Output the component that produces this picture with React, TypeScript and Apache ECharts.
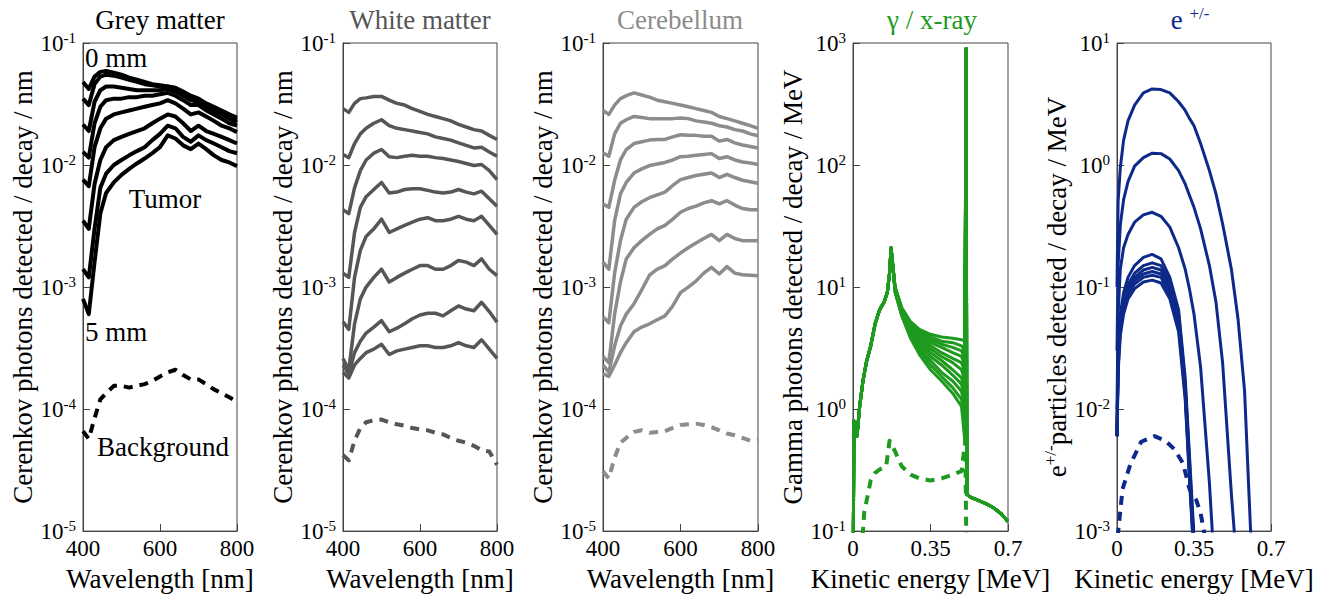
import React, { useEffect, useRef } from 'react';
import * as echarts from 'echarts';

const FONT = 'Liberation Serif, serif';

// ---------- Wavelength panels ----------
const wavelengths = [400, 415, 430, 445, 460, 480, 500, 520, 540, 560, 580, 600, 620, 640, 660, 680, 700, 720, 740, 760, 780, 800];

const greyCurves = [
  [0.048, 0.042, 0.053, 0.058, 0.059, 0.057, 0.055, 0.052, 0.050, 0.048, 0.046, 0.045, 0.044, 0.043, 0.040, 0.037, 0.035, 0.032, 0.030, 0.028, 0.026, 0.0245],
  [0.035, 0.031, 0.046, 0.053, 0.055, 0.054, 0.052, 0.050, 0.048, 0.046, 0.045, 0.044, 0.044, 0.042, 0.039, 0.036, 0.034, 0.031, 0.029, 0.027, 0.025, 0.0235],
  [0.0215, 0.019, 0.033, 0.041, 0.044, 0.044, 0.043, 0.042, 0.041, 0.041, 0.041, 0.041, 0.042, 0.040, 0.037, 0.034, 0.033, 0.030, 0.028, 0.026, 0.024, 0.0225],
  [0.0128, 0.0115, 0.022, 0.030, 0.034, 0.035, 0.035, 0.036, 0.036, 0.037, 0.037, 0.038, 0.039, 0.037, 0.034, 0.031, 0.031, 0.028, 0.026, 0.024, 0.022, 0.021],
  [0.0076, 0.0067, 0.014, 0.020, 0.024, 0.026, 0.027, 0.028, 0.029, 0.030, 0.031, 0.032, 0.034, 0.032, 0.029, 0.026, 0.027, 0.025, 0.023, 0.021, 0.020, 0.0186],
  [0.0035, 0.003, 0.007, 0.011, 0.014, 0.016, 0.017, 0.018, 0.019, 0.020, 0.022, 0.024, 0.026, 0.025, 0.022, 0.019, 0.021, 0.019, 0.018, 0.017, 0.016, 0.015],
  [0.0014, 0.0012, 0.003, 0.0065, 0.0085, 0.010, 0.011, 0.012, 0.013, 0.014, 0.016, 0.018, 0.021, 0.020, 0.017, 0.0155, 0.0175, 0.016, 0.015, 0.014, 0.013, 0.0125],
  [0.0008, 0.0006, 0.0016, 0.004, 0.0059, 0.0072, 0.0083, 0.0093, 0.0103, 0.0113, 0.0125, 0.014, 0.0175, 0.0165, 0.0145, 0.0135, 0.015, 0.0135, 0.012, 0.011, 0.0105, 0.0098],
];
const greyBackground = [6.6e-5, 5.7e-5, 8.4e-5, 1.2e-4, 1.35e-4, 1.55e-4, 1.55e-4, 1.5e-4, 1.55e-4, 1.6e-4, 1.7e-4, 1.85e-4, 2.0e-4, 2.1e-4, 1.9e-4, 1.75e-4, 1.75e-4, 1.6e-4, 1.45e-4, 1.35e-4, 1.25e-4, 1.15e-4];

const whiteCurves = [
  [0.029, 0.027, 0.032, 0.035, 0.0355, 0.0365, 0.0365, 0.034, 0.032, 0.031, 0.029, 0.0275, 0.026, 0.025, 0.024, 0.023, 0.0215, 0.0205, 0.0195, 0.019, 0.0175, 0.0162],
  [0.0122, 0.0115, 0.015, 0.018, 0.020, 0.022, 0.0235, 0.021, 0.020, 0.0195, 0.019, 0.0185, 0.018, 0.017, 0.0165, 0.016, 0.0152, 0.0145, 0.0138, 0.014, 0.0128, 0.0118],
  [0.0043, 0.004, 0.0065, 0.009, 0.011, 0.0125, 0.0134, 0.0117, 0.0115, 0.0118, 0.012, 0.0118, 0.0118, 0.0115, 0.0113, 0.011, 0.0107, 0.0103, 0.0099, 0.0101, 0.009, 0.0076],
  [0.0013, 0.0012, 0.0028, 0.0045, 0.0055, 0.0063, 0.0072, 0.0059, 0.006, 0.0063, 0.0064, 0.0064, 0.0062, 0.006, 0.0059, 0.006, 0.0063, 0.006, 0.0058, 0.0061, 0.0053, 0.0046],
  [5.2e-4, 4.5e-4, 0.0012, 0.002, 0.0026, 0.003, 0.0036, 0.0028, 0.003, 0.0032, 0.0034, 0.0036, 0.0037, 0.0035, 0.0035, 0.0036, 0.0038, 0.0036, 0.0035, 0.0038, 0.0032, 0.0027],
  [2.6e-4, 2.1e-4, 5e-4, 8e-4, 0.001, 0.0012, 0.0014, 0.0011, 0.0012, 0.0013, 0.0014, 0.0015, 0.0015, 0.0014, 0.0014, 0.0015, 0.00165, 0.0016, 0.0015, 0.0017, 0.0014, 0.00124],
  [2.3e-4, 1.95e-4, 2.9e-4, 3.6e-4, 4.2e-4, 4.7e-4, 5.3e-4, 4.3e-4, 4.6e-4, 5.0e-4, 5.5e-4, 5.9e-4, 6.1e-4, 6.1e-4, 5.8e-4, 6.4e-4, 7.0e-4, 6.6e-4, 6.4e-4, 7.5e-4, 6.3e-4, 5.15e-4],
  [2.0e-4, 1.8e-4, 2.3e-4, 2.6e-4, 2.9e-4, 3.1e-4, 3.4e-4, 2.8e-4, 3.0e-4, 3.1e-4, 3.2e-4, 3.3e-4, 3.3e-4, 3.2e-4, 3.2e-4, 3.3e-4, 3.5e-4, 3.3e-4, 3.2e-4, 3.7e-4, 3.1e-4, 2.6e-4],
];
const whiteBackground = [4.2e-5, 3.8e-5, 5.5e-5, 7.0e-5, 7.8e-5, 8.1e-5, 8.2e-5, 7.8e-5, 7.5e-5, 7.3e-5, 7.0e-5, 6.8e-5, 6.7e-5, 6.4e-5, 6.2e-5, 5.8e-5, 5.5e-5, 5.3e-5, 5.0e-5, 4.6e-5, 4.5e-5, 3.5e-5];

const cerebellumCurves = [
  [0.028, 0.026, 0.031, 0.035, 0.037, 0.039, 0.0375, 0.036, 0.034, 0.033, 0.032, 0.031, 0.030, 0.029, 0.028, 0.027, 0.025, 0.024, 0.023, 0.022, 0.021, 0.020],
  [0.0126, 0.0118, 0.018, 0.022, 0.0235, 0.025, 0.0245, 0.024, 0.024, 0.024, 0.024, 0.0243, 0.024, 0.023, 0.0225, 0.022, 0.021, 0.0205, 0.0195, 0.019, 0.018, 0.0174],
  [0.0048, 0.0045, 0.0075, 0.011, 0.0134, 0.015, 0.0155, 0.016, 0.0162, 0.0162, 0.017, 0.0177, 0.0175, 0.0175, 0.0172, 0.0172, 0.0157, 0.0162, 0.0152, 0.0146, 0.0142, 0.0138],
  [0.0016, 0.0014, 0.0035, 0.0058, 0.0072, 0.0086, 0.0093, 0.0099, 0.0102, 0.0105, 0.011, 0.0117, 0.0118, 0.012, 0.0122, 0.0124, 0.0113, 0.0117, 0.011, 0.0106, 0.0104, 0.0101],
  [5.7e-4, 5.1e-4, 0.0013, 0.0024, 0.0036, 0.0045, 0.005, 0.0054, 0.0057, 0.006, 0.0068, 0.0076, 0.0079, 0.0082, 0.0084, 0.0086, 0.0079, 0.0084, 0.0079, 0.0075, 0.0073, 0.0071],
  [2.7e-4, 2.4e-4, 6e-4, 0.0011, 0.0017, 0.0021, 0.0024, 0.0027, 0.003, 0.0032, 0.0036, 0.0041, 0.0044, 0.0046, 0.0049, 0.0051, 0.0048, 0.0051, 0.0047, 0.0044, 0.0043, 0.0043],
  [2.3e-4, 2.0e-4, 3.3e-4, 4.8e-4, 6.0e-4, 7.3e-4, 9.5e-4, 0.00125, 0.0014, 0.0015, 0.0017, 0.0019, 0.0021, 0.0023, 0.0025, 0.0027, 0.0024, 0.0027, 0.0025, 0.0024, 0.0024, 0.0024],
  [1.95e-4, 1.85e-4, 2.3e-4, 2.9e-4, 3.5e-4, 4.3e-4, 4.7e-4, 5.0e-4, 5.4e-4, 5.8e-4, 7.0e-4, 9.0e-4, 0.001, 0.00112, 0.0013, 0.00145, 0.00128, 0.00147, 0.0013, 0.00126, 0.00125, 0.00124],
];
const cerebellumBackground = [3.1e-5, 2.7e-5, 4.0e-5, 5.3e-5, 5.8e-5, 6.5e-5, 6.7e-5, 6.4e-5, 6.5e-5, 6.6e-5, 7.0e-5, 7.4e-5, 7.5e-5, 7.6e-5, 7.4e-5, 7.1e-5, 6.7e-5, 6.3e-5, 6.1e-5, 5.8e-5, 5.5e-5, 5.6e-5];

// ---------- Gamma / x-ray panel ----------
const gammaHeadE = [0, 0.004, 0.01, 0.018, 0.03, 0.045, 0.06, 0.08, 0.1, 0.12, 0.14, 0.155, 0.165, 0.172];
const gammaHeadV = [0.02, 0.8, 0.62, 0.6, 1.05, 1.7, 2.4, 3.3, 5.0, 6.5, 7.5, 9.0, 13, 21];
const gammaTailE = [0.19, 0.22, 0.26, 0.3, 0.35, 0.4, 0.45, 0.49, 0.505];
const gammaTails = [
  [10, 6.8, 5.2, 4.5, 4.1, 3.9, 3.8, 3.7, 3.6],
  [10, 6.7, 5.1, 4.3, 3.9, 3.6, 3.5, 3.3, 3.0],
  [9.9, 6.6, 5.0, 4.2, 3.7, 3.4, 3.2, 3.0, 2.6],
  [9.8, 6.5, 4.9, 4.0, 3.5, 3.2, 2.9, 2.7, 2.3],
  [9.7, 6.4, 4.7, 3.8, 3.3, 2.9, 2.6, 2.4, 2.0],
  [9.6, 6.3, 4.6, 3.7, 3.1, 2.7, 2.4, 2.1, 1.7],
  [9.5, 6.2, 4.4, 3.5, 2.9, 2.5, 2.1, 1.8, 1.4],
  [9.4, 6.1, 4.3, 3.3, 2.7, 2.3, 1.9, 1.6, 1.2],
  [9.3, 6.0, 4.1, 3.1, 2.5, 2.0, 1.7, 1.4, 1.0],
  [9.2, 5.9, 4.0, 3.0, 2.3, 1.85, 1.5, 1.2, 0.8],
  [9.0, 5.8, 3.8, 2.8, 2.1, 1.7, 1.35, 1.05, 0.55],
];
const gammaSpikeE = [0.511, 0.514, 0.53, 0.56, 0.6, 0.64, 0.67, 0.7];
const gammaSpikeV = [900, 0.2, 0.19, 0.18, 0.168, 0.153, 0.138, 0.12];
const gammaBgE = [0.035, 0.05, 0.08, 0.1, 0.12, 0.15, 0.165, 0.19, 0.22, 0.26, 0.3, 0.35, 0.4, 0.45, 0.49, 0.507, 0.513];
const gammaBgV = [0.05, 0.14, 0.26, 0.3, 0.32, 0.34, 0.55, 0.45, 0.34, 0.29, 0.27, 0.26, 0.27, 0.29, 0.31, 0.55, 0.05];

// ---------- e+/- panel ----------
const electronE = [0, 0.005, 0.015, 0.03, 0.05, 0.08, 0.12, 0.16, 0.2, 0.24, 0.28, 0.31, 0.33, 0.35, 0.38, 0.42, 0.45, 0.48, 0.52, 0.55, 0.58, 0.6, 0.62];
const electronCurves = [
  [0.1, 0.5, 0.95, 1.6, 2.3, 3.1, 3.9, 4.2, 4.15, 3.9, 3.3, 2.8, 2.4, 2.1, 1.5, 0.9, 0.58, 0.33, 0.14, 0.055, 0.014, 0.002, 0.0003],
  [0.03, 0.15, 0.32, 0.52, 0.73, 0.98, 1.15, 1.25, 1.24, 1.12, 0.9, 0.7, 0.56, 0.45, 0.3, 0.15, 0.075, 0.024, 0.002, 0.0004],
  [0.01, 0.06, 0.14, 0.21, 0.27, 0.34, 0.39, 0.41, 0.38, 0.31, 0.21, 0.14, 0.095, 0.06, 0.022, 0.0025, 0.0003],
  [0.006, 0.03, 0.06, 0.09, 0.12, 0.15, 0.175, 0.185, 0.17, 0.12, 0.065, 0.018, 0.004, 0.0009],
  [0.006, 0.028, 0.055, 0.08, 0.105, 0.13, 0.15, 0.158, 0.15, 0.11, 0.06, 0.016, 0.0035, 0.0008],
  [0.006, 0.026, 0.05, 0.075, 0.1, 0.12, 0.138, 0.145, 0.138, 0.1, 0.055, 0.015, 0.003, 0.0007],
  [0.006, 0.024, 0.047, 0.07, 0.094, 0.113, 0.128, 0.134, 0.128, 0.094, 0.05, 0.014, 0.003, 0.0007],
  [0.006, 0.022, 0.044, 0.066, 0.088, 0.106, 0.12, 0.125, 0.12, 0.088, 0.047, 0.013, 0.0028, 0.0006],
  [0.006, 0.02, 0.04, 0.06, 0.08, 0.097, 0.11, 0.114, 0.108, 0.08, 0.043, 0.012, 0.0025, 0.0006],
];
const electronBgE = [0.003, 0.014, 0.025, 0.06, 0.11, 0.17, 0.22, 0.26, 0.3, 0.33, 0.36, 0.38, 0.4];
const electronBgV = [0.0009, 0.0014, 0.0022, 0.0035, 0.0054, 0.006, 0.0055, 0.0047, 0.0036, 0.0022, 0.0018, 0.0014, 0.0009];

// ---------- styling ----------
const BLACK = '#000000';
const DARK = '#565656';
const LIGHT = '#8c8c8c';
const GREEN = '#1e9a1e';
const BLUE = '#0d2a8a';
const FRAME = '#444444';

const grids = [
  { left: 83, top: 43, width: 154, height: 490 },
  { left: 343, top: 43, width: 154, height: 490 },
  { left: 603, top: 43, width: 155, height: 490 },
  { left: 853, top: 43, width: 155, height: 490 },
  { left: 1117, top: 43, width: 154, height: 490 },
];

const expLabel = (v: number) => `{b|10}{s|${Math.round(Math.log10(v))}}`;

function line(idx: number, xs: number[], ys: number[], color: string, width: number, dashed = false) {
  const data = xs.map((x, i) => [x, ys[i]]).filter((d) => d[1] != null && d[1] !== undefined);
  return {
    type: 'line',
    xAxisIndex: idx,
    yAxisIndex: idx,
    data,
    symbol: 'none',
    showSymbol: false,
    silent: true,
    clip: true,
    lineStyle: { color, width, type: dashed ? [9, 7] : 'solid', join: 'round', cap: 'butt' },
  };
}

export default function App() {
  const ref = useRef<HTMLDivElement>(null);
  useEffect(() => {
    document.body.style.margin = '0';
    const chart = echarts.init(ref.current!, undefined, { renderer: 'svg' });

    const tickStyle = { show: true, inside: true, length: 7, lineStyle: { color: FRAME, width: 1 } };
    const axisLine = { show: true, lineStyle: { color: FRAME, width: 1 } };

    const xAxis = grids.map((_, i) => {
      const nm = i < 3;
      return {
        type: 'value',
        gridIndex: i,
        min: nm ? 400 : 0,
        max: nm ? 800 : 0.7,
        interval: nm ? 200 : 0.35,
        name: nm ? 'Wavelength [nm]' : 'Kinetic energy [MeV]',
        nameLocation: 'middle',
        nameGap: 30,
        nameTextStyle: { fontFamily: FONT, fontSize: 27, color: '#000' },
        axisLine,
        axisTick: tickStyle,
        splitLine: { show: false },
        axisLabel: { fontFamily: FONT, fontSize: 23, color: '#000', margin: 6, showMinLabel: true, showMaxLabel: true },
      };
    });

    const yRanges = [
      [1e-5, 1e-1], [1e-5, 1e-1], [1e-5, 1e-1], [1e-1, 1e3], [1e-3, 1e1],
    ];
    const yNames = [
      'Cerenkov photons detected / decay / nm',
      'Cerenkov photons detected / decay / nm',
      'Cerenkov photons detected / decay / nm',
      'Gamma photons detected / decay / MeV',
      '{n|e}{s|+/-}{n|particles detected / decay / MeV}',
    ];
    const yAxis = grids.map((_, i) => ({
      type: 'log',
      logBase: 10,
      gridIndex: i,
      min: yRanges[i][0],
      max: yRanges[i][1],
      splitNumber: 4,
      name: yNames[i],
      nameLocation: 'middle',
      nameGap: i === 4 ? 44 : 47,
      nameTextStyle: {
        fontFamily: FONT, fontSize: 27, color: '#000',
        rich: {
          n: { fontFamily: FONT, fontSize: 27, color: '#000', lineHeight: 30 },
          s: { fontFamily: FONT, fontSize: 17, color: '#000', lineHeight: 17, verticalAlign: 'top' },
        },
      },
      axisLine,
      axisTick: tickStyle,
      minorTick: { show: false },
      splitLine: { show: false },
      axisLabel: {
        formatter: expLabel,
        margin: 7,
        fontFamily: FONT,
        fontSize: 23,
        color: '#000',
        rich: {
          b: { fontFamily: FONT, fontSize: 23, color: '#000', lineHeight: 26 },
          s: { fontFamily: FONT, fontSize: 15, color: '#000', lineHeight: 15, verticalAlign: 'top' },
        },
      },
    }));

    const series: any[] = [];
    greyCurves.forEach((c) => series.push(line(0, wavelengths, c, BLACK, 4)));
    series.push(line(0, wavelengths, greyBackground, BLACK, 4, true));
    whiteCurves.forEach((c) => series.push(line(1, wavelengths, c, DARK, 3.5)));
    series.push(line(1, wavelengths, whiteBackground, DARK, 4, true));
    cerebellumCurves.forEach((c) => series.push(line(2, wavelengths, c, LIGHT, 3.5)));
    series.push(line(2, wavelengths, cerebellumBackground, LIGHT, 4, true));
    gammaTails.forEach((t) => {
      const xs = gammaHeadE.concat(gammaTailE, gammaSpikeE);
      const ys = gammaHeadV.concat(t, gammaSpikeV);
      series.push(line(3, xs, ys, GREEN, 3));
    });
    series.push(line(3, gammaBgE, gammaBgV, GREEN, 4, true));
    electronCurves.forEach((c) => series.push(line(4, electronE, c, BLUE, 3)));
    series.push(line(4, electronBgE, electronBgV, BLUE, 4, true));

    const txt = (x: number, y: number, text: string, color: string, extra: any = {}) => ({
      type: 'text',
      x,
      y,
      silent: true,
      style: {
        text,
        fill: color,
        fontFamily: FONT,
        fontSize: 27,
        align: 'center',
        verticalAlign: 'middle',
        ...extra,
      },
    });

    chart.setOption({
      animation: false,
      backgroundColor: '#ffffff',
      grid: grids.map((g) => ({ ...g, show: true, borderColor: FRAME, borderWidth: 1, backgroundColor: 'transparent' })),
      xAxis,
      yAxis,
      series,
      graphic: [
        txt(160, 20, 'Grey matter', BLACK),
        txt(420, 20, 'White matter', DARK),
        txt(680, 20, 'Cerebellum', LIGHT),
        txt(932, 20, 'γ / x-ray', GREEN),
        txt(1190, 20, '{e|e }{s|+/-}', BLUE, {
          rich: {
            e: { fontFamily: FONT, fontSize: 27, fill: BLUE, lineHeight: 30 },
            s: { fontFamily: FONT, fontSize: 17, fill: BLUE, lineHeight: 17, verticalAlign: 'top' },
          },
        }),
        txt(116, 58, '0 mm', BLACK),
        txt(165, 199, 'Tumor', BLACK),
        txt(116, 332, '5 mm', BLACK),
        txt(163, 447, 'Background', BLACK),
      ],
    });
    return () => chart.dispose();
  }, []);
  return <div ref={ref} style={{ width: 1334, height: 597 }} />;
}
